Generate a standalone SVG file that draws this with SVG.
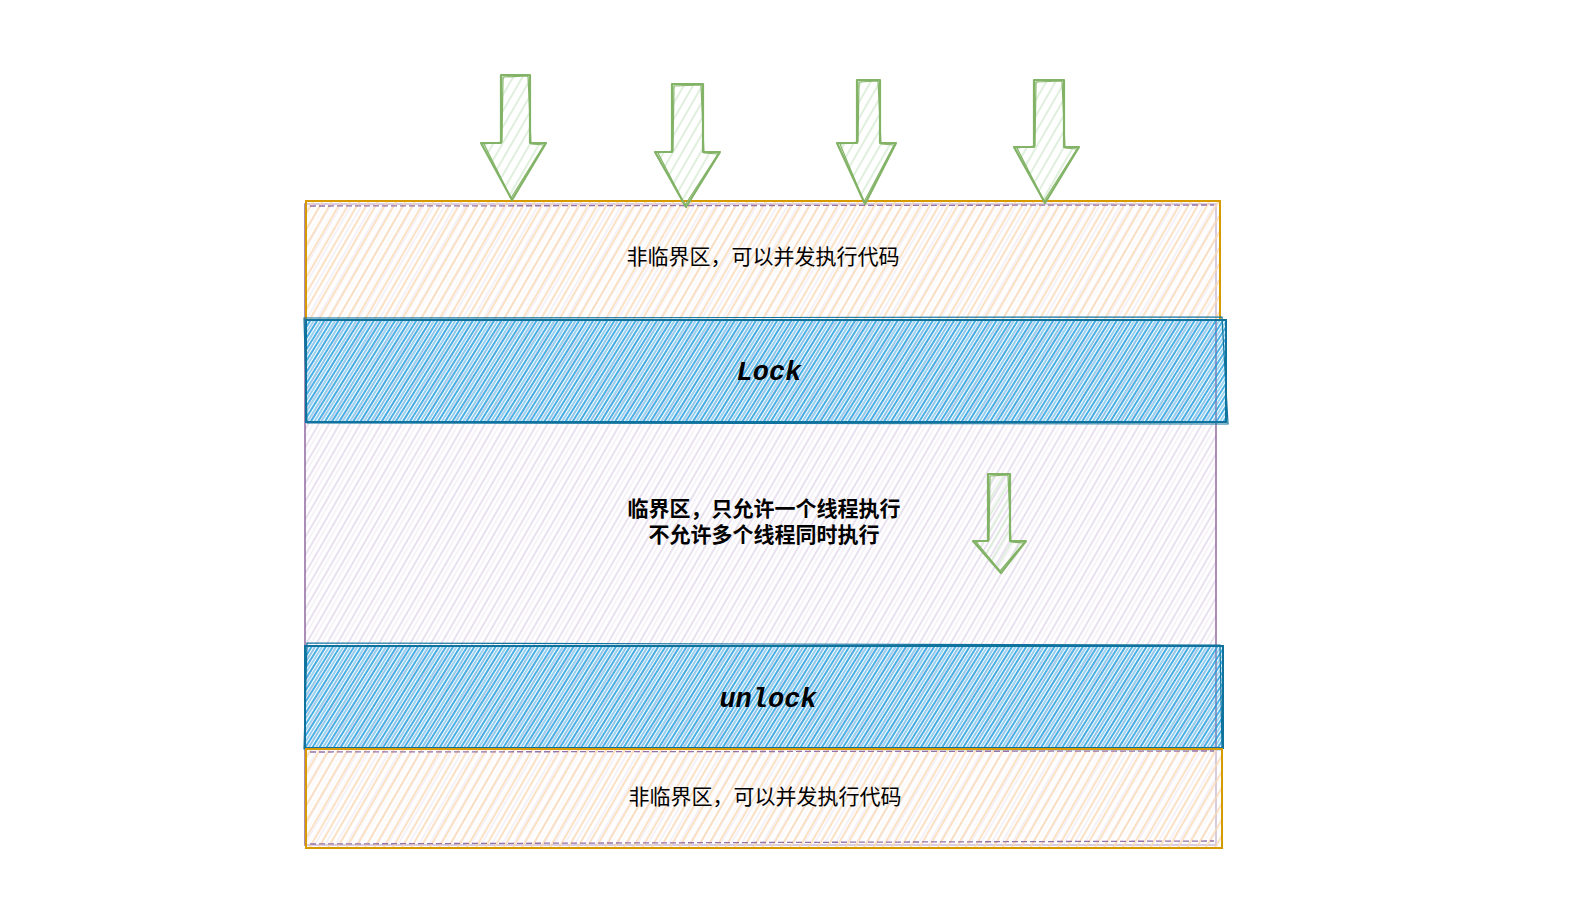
<svg xmlns="http://www.w3.org/2000/svg" width="1592" height="902" viewBox="0 0 1592 902">
  <defs>
    <pattern id="hPurple" width="9" height="9" patternUnits="userSpaceOnUse" patternTransform="rotate(30)">
      <line x1="2" y1="0" x2="2" y2="9" stroke="#ddd0e6" stroke-width="1.3"/>
      <line x1="6" y1="0" x2="6" y2="9" stroke="#ebe3f0" stroke-width="0.9"/>
    </pattern>
    <pattern id="hOrange" width="8" height="8" patternUnits="userSpaceOnUse" patternTransform="rotate(30)">
      <line x1="4" y1="0" x2="4" y2="8" stroke="#fbd8b2" stroke-width="1.5"/>
    </pattern>
    <pattern id="hBlue" width="6" height="6" patternUnits="userSpaceOnUse" patternTransform="rotate(32)">
      <line x1="1" y1="0" x2="1" y2="6" stroke="#1b9ee0" stroke-width="1.6"/>
      <line x1="4" y1="0" x2="4" y2="6" stroke="#45b0e6" stroke-width="1.1"/>
    </pattern>
    <pattern id="hGreen" width="8" height="8" patternUnits="userSpaceOnUse" patternTransform="rotate(30)">
      <line x1="3" y1="0" x2="3" y2="8" stroke="#cfe6cc" stroke-width="1.3"/>
    </pattern>
  </defs>
  <style>
    .purple { fill: url(#hPurple); stroke: #9673a6; stroke-width: 1.6; }
    .orange { fill: url(#hOrange); stroke: #d79b00; stroke-width: 2; }
    .veil { fill: #ffffff; fill-opacity: 0.55; stroke: none; }
    .blue { fill: url(#hBlue); stroke: #10739e; stroke-width: 2; }
    .blue2 { fill: none; stroke: #10739e; stroke-width: 1.2; }
    .dash { fill: none; stroke: #9673a6; stroke-width: 1.3; stroke-dasharray: 6 3; }
    .arrow { fill: url(#hGreen); stroke: #82b366; stroke-width: 2.2; stroke-linejoin: round; }
    .arrow2 { fill: none; stroke: #82b366; stroke-width: 1.2; stroke-linejoin: round; }
    .t { font-family: "Liberation Sans", "Noto Sans CJK SC", sans-serif; font-size: 21px; fill: #000; text-anchor: middle; }
    .tb { font-family: "Liberation Sans", "Noto Sans CJK SC", sans-serif; font-size: 21px; font-weight: bold; fill: #000; text-anchor: middle; }
    .mono { font-family: "Liberation Mono", monospace; font-size: 27px; font-weight: bold; font-style: italic; fill: #000; text-anchor: middle; }
  </style>
  <rect width="1592" height="902" fill="#ffffff"/>

  <g id="critical-region">
    <rect class="purple" x="305" y="204" width="911" height="641"/>
    <text class="tb" x="764" y="516">临界区，只允许一个线程执行</text>
    <text class="tb" x="764" y="542">不允许多个线程同时执行</text>
  </g>

  <g id="non-critical-top">
    <rect class="veil" x="306" y="201" width="914" height="119"/>
    <rect class="orange" x="306" y="201" width="914" height="119"/>
    <path class="dash" d="M310 206 L1214 205"/>
    <text class="t" x="763" y="264">非临界区，可以并发执行代码</text>
  </g>

  <g id="lock">
    <rect class="blue" x="306" y="320" width="920" height="102"/>
    <path class="blue2" d="M304 318 L1222 317 L1228 424 L307 423 Z"/>
    <text class="mono" x="769" y="380">Lock</text>
  </g>

  <g id="unlock">
    <rect class="blue" x="305" y="646" width="918" height="102"/>
    <path class="blue2" d="M307 643 L1220 645 L1222 750 L304 749 Z"/>
    <text class="mono" x="768" y="707">unlock</text>
  </g>

  <g id="non-critical-bottom">
    <rect class="veil" x="306" y="749" width="916" height="99"/>
    <rect class="orange" x="306" y="749" width="916" height="99"/>
    <path class="dash" d="M310 752 L1214 751"/>
    <path class="dash" d="M310 844 L1214 841"/>
    <text class="t" x="765" y="804">非临界区，可以并发执行代码</text>
  </g>

  <g id="connectors">
    <g id="arrow1">
      <path class="arrow" d="M501 75 L530 75 L530 143 L546 143 L512 200 L481 143 L501 143 Z"/>
      <path class="arrow2" d="M503 77 L528 76 L531 144 L544 145 L511 198 L484 144 L502 142 Z"/>
    </g>
    <g id="arrow2">
      <path class="arrow" d="M672 84 L703 84 L703 152 L720 152 L686 207 L655 152 L672 152 Z"/>
      <path class="arrow2" d="M674 86 L701 85 L704 153 L718 154 L685 205 L658 153 L673 151 Z"/>
    </g>
    <g id="arrow3">
      <path class="arrow" d="M857 80 L880 80 L880 143 L896 143 L865 204 L837 143 L857 143 Z"/>
      <path class="arrow2" d="M859 82 L878 81 L881 144 L894 145 L864 202 L840 144 L858 142 Z"/>
    </g>
    <g id="arrow4">
      <path class="arrow" d="M1034 80 L1064 80 L1064 147 L1079 147 L1045 203 L1014 147 L1034 147 Z"/>
      <path class="arrow2" d="M1036 82 L1062 81 L1065 148 L1077 149 L1044 201 L1017 148 L1035 146 Z"/>
    </g>
    <g id="arrow5">
      <path class="arrow" d="M988 474 L1010 474 L1010 541 L1026 541 L1001 573 L973 541 L988 541 Z"/>
      <path class="arrow2" d="M990 476 L1008 475 L1011 542 L1024 543 L1000 571 L976 542 L989 540 Z"/>
    </g>
  </g>
</svg>
